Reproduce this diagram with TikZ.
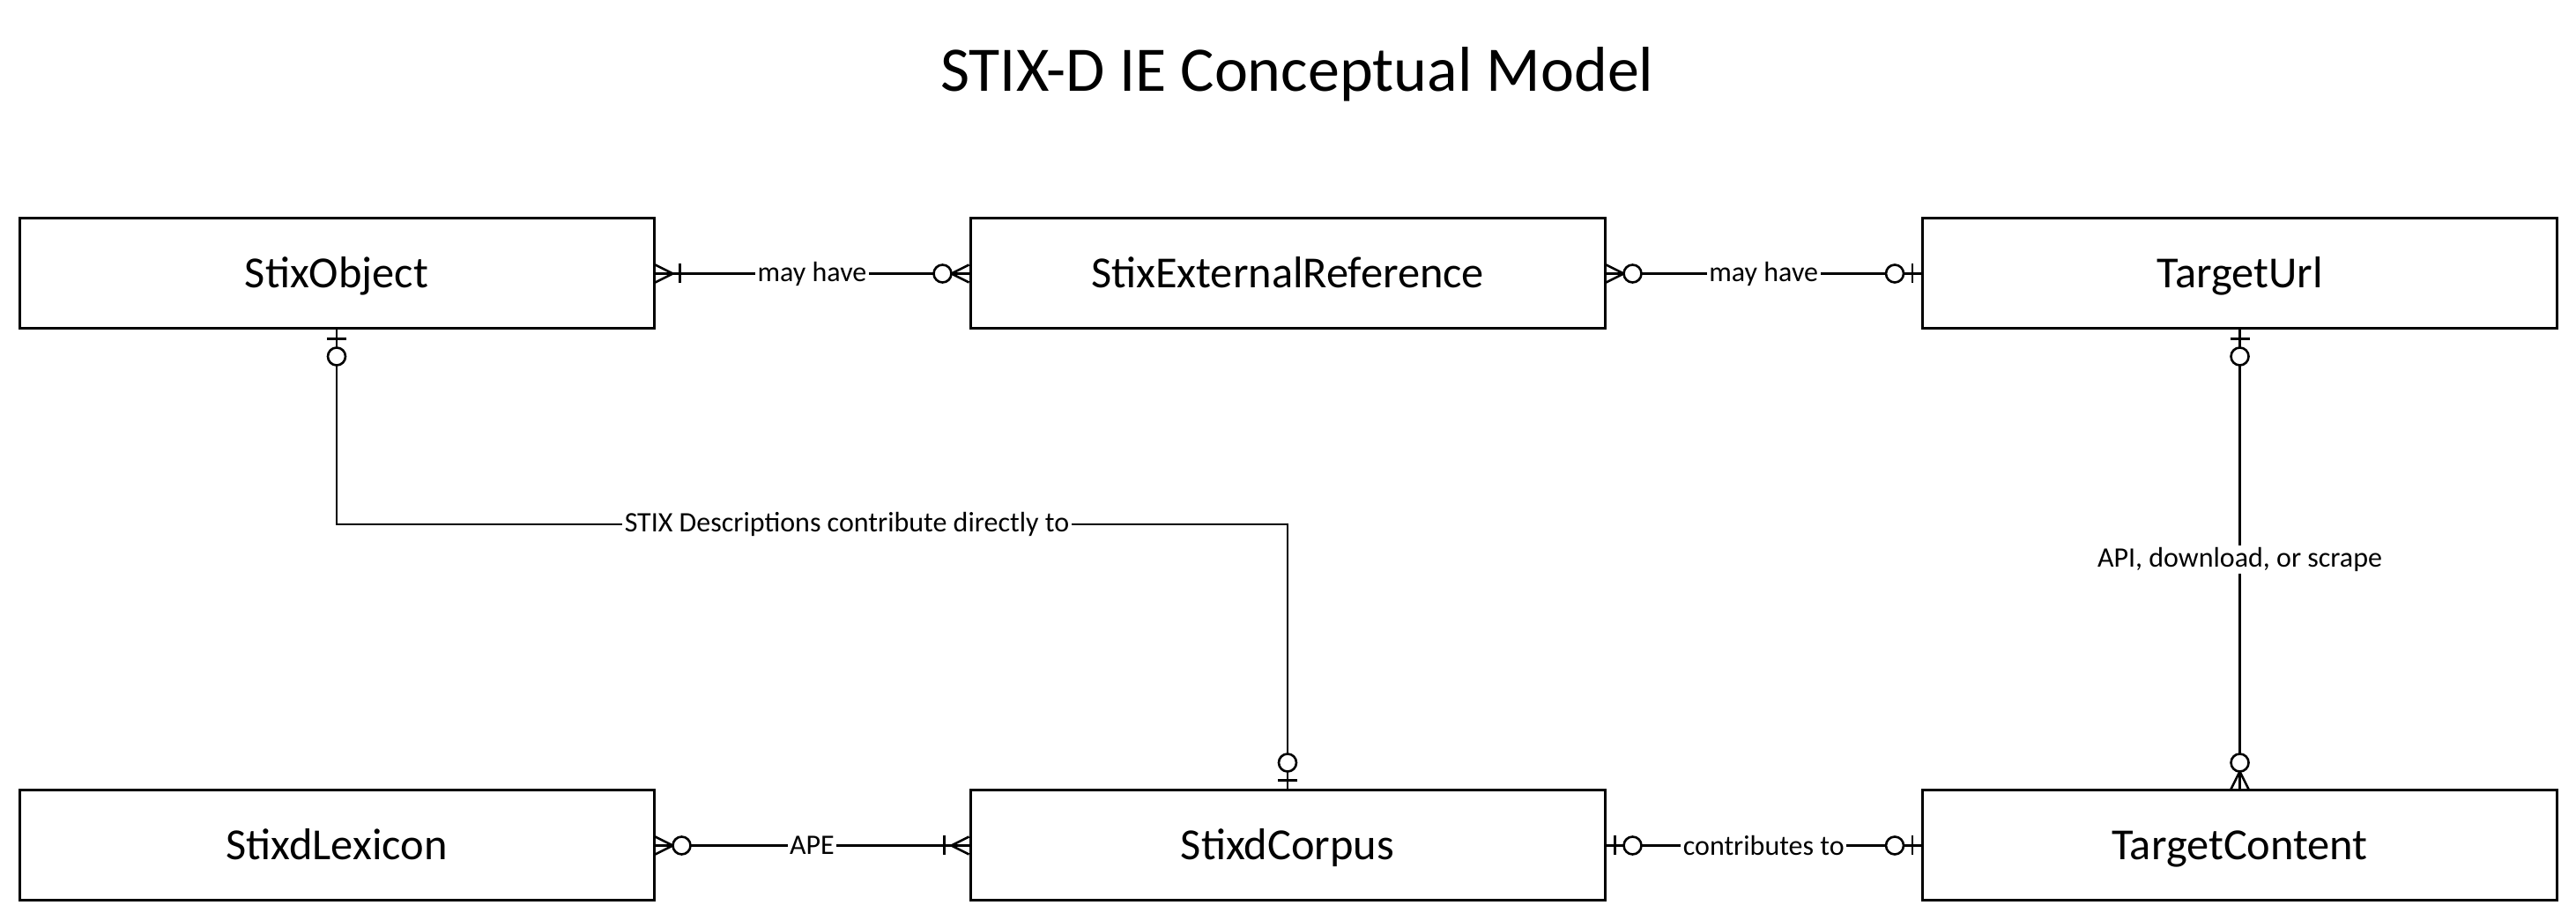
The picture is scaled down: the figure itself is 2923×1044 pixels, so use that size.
\documentclass[tikz,border=0pt]{standalone}
\usepackage{fontspec}
\setmainfont{Carlito}
\begin{document}
\begin{tikzpicture}[x=0.25pt,y=-0.25pt,
  ent/.style={draw, line width=0.75pt, minimum width=180pt, minimum height=31.25pt, inner sep=0pt, text height=8.1pt, text depth=0pt, font=\fontsize{12.6}{15}\selectfont},
  lbl/.style={fill=white, inner sep=0.6pt, font=\fontsize{8}{9.6}\selectfont},
  conn/.style={line width=0.65pt},
  crowz/.pic={\draw[conn] (0,10)--(20,0)--(0,-10); \draw[conn,fill=white] (30,0) circle[radius=10];},
  crowo/.pic={\draw[conn] (0,10)--(20,0)--(0,-10); \draw[conn] (28,11)--(28,-11);},
  onez/.pic={\draw[conn] (10,11)--(10,-11); \draw[conn,fill=white] (30,0) circle[radius=10];}
]
\useasboundingbox (0,0) rectangle (2923,1044);
\node[font=\fontsize{18}{22}\selectfont] (title) at (1472,84) {STIX-D IE Conceptual Model};

\node[ent] (so)  at (382,310.5)   {StixObject};
\node[ent] (ser) at (1461,310.5)  {StixExternalReference};
\node[ent] (tu)  at (2541.5,310.5){TargetUrl};
\node[ent] (sl)  at (382,959.5)   {StixdLexicon};
\node[ent] (sc)  at (1461,959.5)  {StixdCorpus};
\node[ent] (tc)  at (2541.5,959.5){TargetContent};

% connectors
\draw[conn] (so.east) -- node[lbl] (l1) {may have} (ser.west);
\draw[conn] (ser.east) -- node[lbl] (l2) {may have} (tu.west);
\coordinate (bend) at (1461,595);
\draw[conn] (so.south) |- (bend) -- (sc.north);
\node[lbl] (l3) at (961,595) {STIX Descriptions contribute directly to};
\draw[conn] (tu.south) -- node[lbl] (l4) {API, download, or scrape} (tc.north);
\draw[conn] (sl.east) -- node[lbl] (l5) {APE} (sc.west);
\draw[conn] (sc.east) -- node[lbl] (l6) {contributes to} (tc.west);

% ends
\pic at (so.east) {crowo};
\pic[rotate=180] at (ser.west) {crowz};
\pic at (ser.east) {crowz};
\pic[rotate=180] at (tu.west) {onez};
\pic[rotate=-90] at (so.south) {onez};
\pic[rotate=90] at (sc.north) {onez};
\pic[rotate=-90] at (tu.south) {onez};
\pic[rotate=90] at (tc.north) {crowz};
\pic at (sl.east) {crowz};
\pic[rotate=180] at (sc.west) {crowo};
\pic at (sc.east) {onez};
\pic[rotate=180] at (tc.west) {onez};
\end{tikzpicture}
\end{document}
